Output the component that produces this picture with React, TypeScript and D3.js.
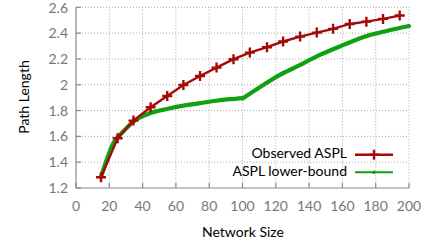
import * as d3 from 'd3'

// values
const obsX = [15, 25, 34.5, 44.8, 54.8, 64.5, 74.5, 84.4, 94.6, 104.4, 114.7, 124.4, 134.6, 144.6, 154.4, 164.4, 174.4, 184.4, 194.4]
const obsY = [1.283, 1.585, 1.722, 1.826, 1.913, 1.998, 2.068, 2.133, 2.198, 2.249, 2.291, 2.335, 2.373, 2.404, 2.433, 2.471, 2.489, 2.51, 2.536]

// lower bound, before and after the break at ~100
const lbX = [15, 18.4, 22.4, 25, 30, 34.4, 44.4, 54.5, 64.5, 74.5, 84, 92.3, 100.5, 112.5, 122.5, 132.5, 146.5, 160, 172.4, 186, 200]
const lbY = [1.283, 1.417, 1.546, 1.592, 1.66, 1.714, 1.779, 1.812, 1.838, 1.857, 1.876, 1.888, 1.897, 1.998, 2.076, 2.14, 2.231, 2.305, 2.368, 2.415, 2.455]
const lbBreak = 100.5

const xTicks = [0, 20, 40, 60, 80, 100, 120, 140, 160, 180, 200]
const yTicks = [1.2, 1.4, 1.6, 1.8, 2, 2.2, 2.4, 2.6]

const seriesNames = ['Observed ASPL', 'ASPL lower-bound']

const W = 426
const H = 247
const margin = { left: 76, right: 17, top: 7.3, bottom: 59 }
const font = 'Lato, "Open Sans", sans-serif'
const red = '#a50a0a'
const green = '#10a010'

const App = () => {
  const x = d3.scaleLinear().domain([0, 200]).range([margin.left, W - margin.right])
  const y = d3.scaleLinear().domain([1.2, 2.6]).range([H - margin.bottom, margin.top])

  const obs = obsX.map((v, i) => [v, obsY[i]] as [number, number])
  const lb = lbX.map((v, i) => [v, lbY[i]] as [number, number])
  const lbA = lb.filter(d => d[0] <= lbBreak)
  const lbB = lb.filter(d => d[0] >= lbBreak)

  const obsLine = d3.line<[number, number]>().x(d => x(d[0])).y(d => y(d[1]))
  const lbLine = d3.line<[number, number]>().x(d => x(d[0])).y(d => y(d[1])).curve(d3.curveMonotoneX)

  const plus = (cx: number, cy: number, s: number, key: string) => (
    <path key={key} d={`M${cx - s},${cy}H${cx + s}M${cx},${cy - s}V${cy + s}`} stroke={red} strokeWidth={2.4} />
  )

  const y0 = y(1.2)
  const x0 = x(0)

  return (
    <svg width={W} height={H} style={{ position: 'absolute', left: 0, top: 0, background: 'white' }}>
      {/* grid */}
      {xTicks.slice(1).map(t => (
        <line key={'gx' + t} x1={x(t)} x2={x(t)} y1={y(2.6)} y2={y0} stroke="#aaa" strokeWidth={1} strokeDasharray="1,2" />
      ))}
      {yTicks.slice(1).map(t => (
        <line key={'gy' + t} x1={x0} x2={x(200)} y1={y(t)} y2={y(t)} stroke="#aaa" strokeWidth={1} strokeDasharray="1,2" />
      ))}

      {/* axes */}
      <line x1={x0} x2={x0} y1={y(2.6)} y2={y0} stroke="#888" strokeWidth={1.2} />
      <line x1={x0} x2={x(200)} y1={y0} y2={y0} stroke="#888" strokeWidth={1.2} />
      {xTicks.map(t => (
        <line key={'tx' + t} x1={x(t)} x2={x(t)} y1={y0} y2={y0 - 5} stroke="#888" strokeWidth={1.2} />
      ))}
      {yTicks.map(t => (
        <line key={'ty' + t} x1={x0} x2={x0 + 5} y1={y(t)} y2={y(t)} stroke="#888" strokeWidth={1.2} />
      ))}

      {xTicks.map(t => (
        <text key={'lx' + t} x={x(t)} y={211} textAnchor="middle" fontFamily={font} fontSize={14} fill="#777">{t}</text>
      ))}
      {yTicks.map(t => (
        <text key={'ly' + t} x={68} y={Math.max(y(t) + 5, 13)} textAnchor="end" fontFamily={font} fontSize={14} fill="#777">{t}</text>
      ))}

      <text x={243} y={237} textAnchor="middle" fontFamily={font} fontSize={14} fill="#000">Network Size</text>
      <text transform="translate(29,97) rotate(-90)" textAnchor="middle" fontFamily={font} fontSize={14} fill="#000">Path Length</text>

      {/* series */}
      <path d={lbLine(lbA) ?? ''} fill="none" stroke={green} strokeWidth={4.2} strokeLinejoin="round" strokeLinecap="round" />
      <path d={lbLine(lbB) ?? ''} fill="none" stroke={green} strokeWidth={4.2} strokeLinejoin="round" strokeLinecap="round" />
      <path d={obsLine(obs) ?? ''} fill="none" stroke={red} strokeWidth={2.4} />
      {obs.map((d, i) => plus(x(d[0]), y(d[1]), 5, 'm' + i))}

      {/* legend */}
      <text x={347} y={158} textAnchor="end" fontFamily={font} fontSize={14} fill="#000">{seriesNames[0]}</text>
      <line x1={355} x2={393} y1={154.7} y2={154.7} stroke={red} strokeWidth={2.4} />
      {plus(374, 154.7, 5, 'leg')}
      <text x={347} y={176} textAnchor="end" fontFamily={font} fontSize={14} fill="#000">{seriesNames[1]}</text>
      <line x1={355} x2={393} y1={172.3} y2={172.3} stroke={green} strokeWidth={2} />
      <circle cx={374} cy={172.3} r={1.8} fill={green} />
    </svg>
  )
}

export default App
